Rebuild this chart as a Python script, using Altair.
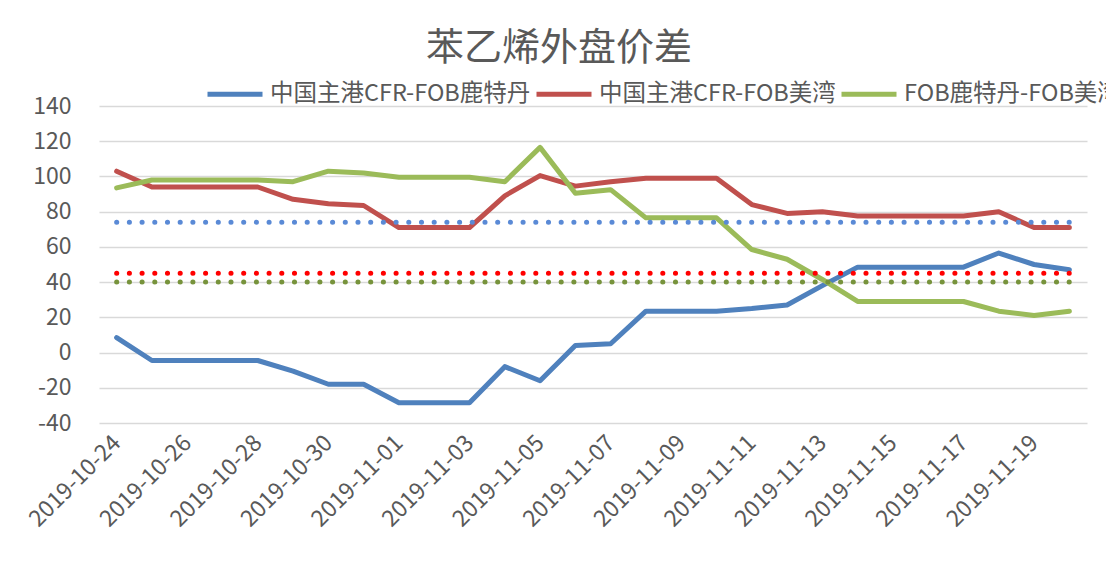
import altair as alt
import pandas as pd

dates = [
    "2019-10-24", "2019-10-25", "2019-10-26", "2019-10-27", "2019-10-28", "2019-10-29", "2019-10-30",
    "2019-10-31", "2019-11-01", "2019-11-02", "2019-11-03", "2019-11-04", "2019-11-05", "2019-11-06",
    "2019-11-07", "2019-11-08", "2019-11-09", "2019-11-10", "2019-11-11", "2019-11-12", "2019-11-13",
    "2019-11-14", "2019-11-15", "2019-11-16", "2019-11-17", "2019-11-18", "2019-11-19", "2019-11-20",
]
blue = [8.5, -4.5, -4.5, -4.5, -4.5, -10.5, -18, -18, -28.5, -28.5, -28.5, -8, -16, 4,
        5, 23.5, 23.5, 23.5, 25, 27, 38, 48.5, 48.5, 48.5, 48.5, 56.5, 50, 47]
red = [103, 94, 94, 94, 94, 87, 84.5, 83.5, 71, 71, 71, 89, 100.5, 94.5,
       97, 99, 99, 99, 84, 79, 80, 77.5, 77.5, 77.5, 77.5, 80, 71, 71]
green = [93.5, 98, 98, 98, 98, 97, 103, 102, 99.5, 99.5, 99.5, 97, 116.5, 90.5,
         92.5, 76.5, 76.5, 76.5, 58.5, 53, 41.5, 29, 29, 29, 29, 23.5, 21, 23.5]

series_names = ["中国主港CFR-FOB鹿特丹", "中国主港CFR-FOB美湾", "FOB鹿特丹-FOB美湾"]
series_colors = ["#4F81BD", "#C0504D", "#9BBB59"]

ref_names = ["ref_a", "ref_b", "ref_c"]
ref_values = [74, 45, 40]
ref_colors = ["#5A8AD6", "#FF0000", "#77933C"]

title_text = "苯乙烯外盘价差"
y_ticks = [-40, -20, 0, 20, 40, 60, 80, 100, 120, 140]

FONT = "Noto Sans CJK SC"
GREY = "#595959"

rows = []
for name, vals in zip(series_names, [blue, red, green]):
    for d, v in zip(dates, vals):
        rows.append({"date": d, "series": name, "value": v})
df = pd.DataFrame(rows)

ref_rows = []
for name, v in zip(ref_names, ref_values):
    for d in dates:
        ref_rows.append({"date": d, "ref": name, "value": v})
df_ref = pd.DataFrame(ref_rows)

x_axis = alt.Axis(
    values=dates[::2], labelAngle=-45, labelAlign="right", labelBaseline="middle",
    labelFontSize=23, labelColor=GREY, labelFont=FONT, labelPadding=16,
    labelOverlap=False, ticks=False, tickSize=0, domain=False, grid=False, title=None,
)
y_axis = alt.Axis(
    values=y_ticks, tickCount=10, labelExpr="datum.value + ''", labelFontSize=23,
    labelColor=GREY, labelFont=FONT, labelPadding=28, labelOverlap=False, ticks=False,
    tickSize=0, domain=False, grid=True, gridColor="#D9D9D9", gridWidth=1.5, title=None,
)
x_scale = alt.Scale(type="point", padding=0.5)
y_scale = alt.Scale(domain=[-40, 140], nice=False, zero=False)

lines = alt.Chart(df).mark_line(strokeWidth=5, strokeCap="round", strokeJoin="round").encode(
    x=alt.X("date:O", sort=dates, scale=x_scale, axis=x_axis),
    y=alt.Y("value:Q", scale=y_scale, axis=y_axis),
    color=alt.Color(
        "series:N",
        sort=series_names,
        scale=alt.Scale(domain=series_names, range=series_colors),
        legend=alt.Legend(
            orient="none", legendX=106, legendY=-42, direction="horizontal", title=None,
            symbolType="stroke", symbolSize=3025, symbolStrokeWidth=5,
            labelFontSize=23.5, labelColor=GREY, labelFont=FONT, labelLimit=600,
            labelOffset=5, columnPadding=-5, padding=0,
        ),
    ),
)

dots = alt.Chart(df_ref).mark_line(strokeWidth=5, strokeCap="round", strokeDash=[0.1, 12.6]).encode(
    x=alt.X("date:O", sort=dates, scale=x_scale, axis=x_axis),
    y=alt.Y("value:Q", scale=y_scale, axis=y_axis),
    stroke=alt.Stroke("ref:N", scale=alt.Scale(domain=ref_names, range=ref_colors), legend=None),
    detail="ref:N",
)

chart = alt.layer(lines, dots).properties(
    width=988,
    height=317,
    title=alt.TitleParams(
        title_text, fontSize=38, color=GREY, font=FONT, fontWeight="normal",
        anchor="middle", frame="group", dx=-34, offset=-4,
    ),
    autosize=alt.AutoSizeParams(type="none"),
    padding={"left": 91, "top": 98, "right": 19, "bottom": 140},
).configure_view(stroke=None)

chart.save("out.html", embed_options={"renderer": "svg", "actions": False})
